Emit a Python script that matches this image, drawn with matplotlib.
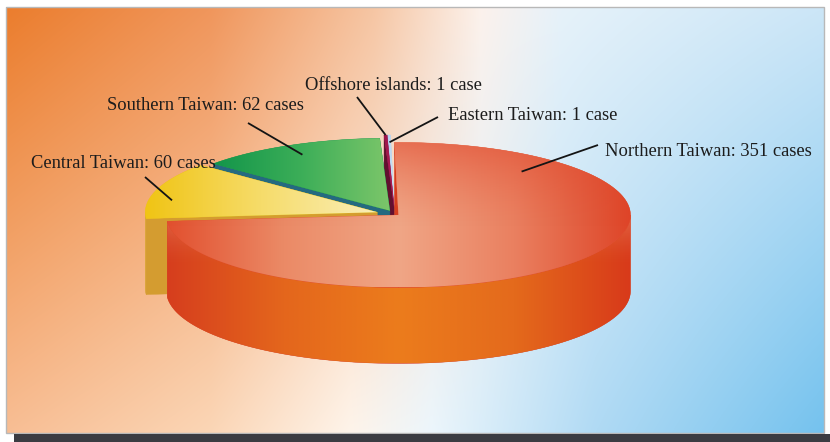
import numpy as np
import matplotlib.pyplot as plt
from matplotlib.patches import Polygon, Rectangle
from matplotlib.colors import LinearSegmentedColormap, to_rgb

# datos: casos por region (orden antihorario desde arriba)
regions = ['Eastern Taiwan', 'Offshore islands', 'Southern Taiwan', 'Central Taiwan', 'Northern Taiwan']
cases = [1, 1, 62, 60, 351]

# colores por porcion: cara superior (gradiente) y paredes
top_colors = [['#aecff0', '#d4e6f6'],
              ['#9c1448', '#b8205a'],
              ['#12954a', '#3cae58', '#7cc66a'],
              ['#f0c414', '#f6dc6a', '#faeeb8'],
              ['#e2502f', '#eb8a66', '#f0a686', '#ea8060', '#de4528']]
wall_colors = [['#1d3a9c', '#2a4cb0'],
               ['#62102f', '#7a1840'],
               ['#256a80', '#2f7c8c'],
               ['#d49c30', '#e2b444'],
               ['#d63e1e', '#e4661c', '#ec7c1c', '#e46a1c', '#d83a1a']]
# sombreado vertical (color, alfa arriba, fraccion)
top_shade = [None, None, None, None, ('#e0442a', 0.55, 0.6)]
wall_shade = [None, None, None, None, ('#f29a7c', 0.45, 0.35)]
explode = [0.09, 0.09, 0.05, 0.08, 0.02]

# etiquetas: posicion del texto, inicio de la linea, punto en la porcion (fraccion angular, radio)
label_xy = [(448, 115), (305, 85), (107, 106), (31, 164), (605, 151)]
line_start = [(438, 117), (357, 97), (248, 123), (145, 177), (598, 145)]
tip_pos = [(0.5, 0.9), (0.5, 1.0), (0.5, 0.86), (0.66, 0.9), (0.84, 0.8)]

cx, cy, a, b, h = 395, 214, 232, 72.5, 76
start = 91

fig = plt.figure(figsize=(8.3, 4.42), dpi=100)
ax = fig.add_axes([0, 0, 1, 1])
ax.set_xlim(0, 830)
ax.set_ylim(442, 0)
ax.set_autoscale_on(False)
ax.axis('off')

# fondo con gradiente
px0, px1, py0, py1 = 6, 824, 7, 433
W, H = px1 - px0, py1 - py0
u = np.linspace(0, 1, W)
top_stops = [(0.0, (235, 125, 45)), (0.25, (240, 150, 92)), (0.45, (246, 198, 164)),
             (0.58, (252, 242, 236)), (0.68, (230, 242, 250)), (1.0, (204, 230, 247))]
bot_stops = [(0.0, (248, 190, 148)), (0.25, (251, 214, 182)), (0.42, (254, 244, 234)),
             (0.52, (236, 246, 252)), (0.72, (176, 218, 244)), (1.0, (116, 194, 238))]

def row(stops):
    xs = [s[0] for s in stops]
    return np.stack([np.interp(u, xs, [s[1][k] for s in stops]) for k in range(3)], axis=-1)

tr, br = row(top_stops), row(bot_stops)
v = np.linspace(0, 1, H)[:, None, None]
bg = (tr[None] * (1 - v) + br[None] * v) / 255
ax.imshow(bg, extent=(px0, px1, py1, py0), aspect='auto', zorder=0, interpolation='bilinear')
ax.add_patch(Rectangle((px0, py0), W, H, fill=False, edgecolor='#b8b8b8', lw=1, zorder=1))
ax.add_patch(Rectangle((14, 434), 816, 9, facecolor='#3b3c42', edgecolor='none', zorder=1))


def pt(t, r, z, off):
    t = np.radians(t)
    return np.column_stack([cx + off[0] + a * r * np.cos(t), cy + off[1] - b * r * np.sin(t) + z * h])


def grad_fill(verts, colors, z, shade=None):
    poly = Polygon(verts, closed=True, facecolor=colors[0], edgecolor=colors[0], lw=0.3, zorder=z)
    ax.add_patch(poly)
    x0, x1 = verts[:, 0].min(), verts[:, 0].max()
    y0, y1 = verts[:, 1].min(), verts[:, 1].max()
    if len(colors) > 1:
        cmap = LinearSegmentedColormap.from_list('g', colors)
        im = ax.imshow(np.linspace(0, 1, 256)[None, :], cmap=cmap, extent=(x0, x1, y1, y0),
                       aspect='auto', zorder=z, interpolation='bilinear')
        im.set_clip_path(poly)
    if shade is not None:
        col, alpha, frac = shade
        yy = np.linspace(0, 1, 256)
        img = np.zeros((256, 1, 4))
        img[:, 0, :3] = to_rgb(col)
        img[:, 0, 3] = alpha * np.clip(1 - yy / frac, 0, 1) ** 1.5
        im2 = ax.imshow(img, extent=(x0, x1, y1, y0), aspect='auto', zorder=z, interpolation='bilinear')
        im2.set_clip_path(poly)


total = sum(cases)
angles = np.cumsum([0] + [c / total * 360 for c in cases]) + start
z = 2
slices = []
for i in range(len(cases)):
    t1, t2 = angles[i], angles[i + 1]
    mid = np.radians((t1 + t2) / 2)
    off = (explode[i] * a * np.cos(mid), -explode[i] * b * np.sin(mid))
    slices.append((t1, t2, off))
    # caras radiales visibles
    for t, vis in [(t1, np.cos(np.radians(t1)) > 0.001), (t2, np.cos(np.radians(t2)) < -0.001)]:
        if vis:
            c0, c1 = pt([t], 0, 0, off)[0], pt([t], 1, 0, off)[0]
            verts = np.array([c0, c1, c1 + [0, h], c0 + [0, h]])
            grad_fill(verts, wall_colors[i][:1], z)
            z += 1
    # pared exterior (parte frontal)
    lo, hi = max(t1, 180), min(t2, 360)
    if hi > lo:
        ts = np.linspace(lo, hi, 200)
        verts = np.vstack([pt(ts, 1, 0, off), pt(ts[::-1], 1, 1, off)])
        grad_fill(verts, wall_colors[i], z, wall_shade[i])
        z += 1
    # cara superior
    ts = np.linspace(t1, t2, max(int(t2 - t1) * 2, 4))
    verts = np.vstack([pt([t1], 0, 0, off), pt(ts, 1, 0, off)])
    grad_fill(verts, top_colors[i], z, top_shade[i])
    z += 1

# etiquetas con lineas guia
for i in range(len(cases)):
    t1, t2, off = slices[i]
    f, r = tip_pos[i]
    tip = pt([t1 + f * (t2 - t1)], r, 0, off)[0]
    ax.plot([line_start[i][0], tip[0]], [line_start[i][1], tip[1]], color='#141414', lw=1.3,
            zorder=50, solid_capstyle='butt')
    txt = f'{regions[i]}: {cases[i]} case' + ('s' if cases[i] > 1 else '')
    ax.text(label_xy[i][0], label_xy[i][1], txt, fontsize=13.3, family='Liberation Serif',
            color='#1c1c1c', ha='left', va='center', zorder=51)

plt.savefig('out.png', dpi=100)
